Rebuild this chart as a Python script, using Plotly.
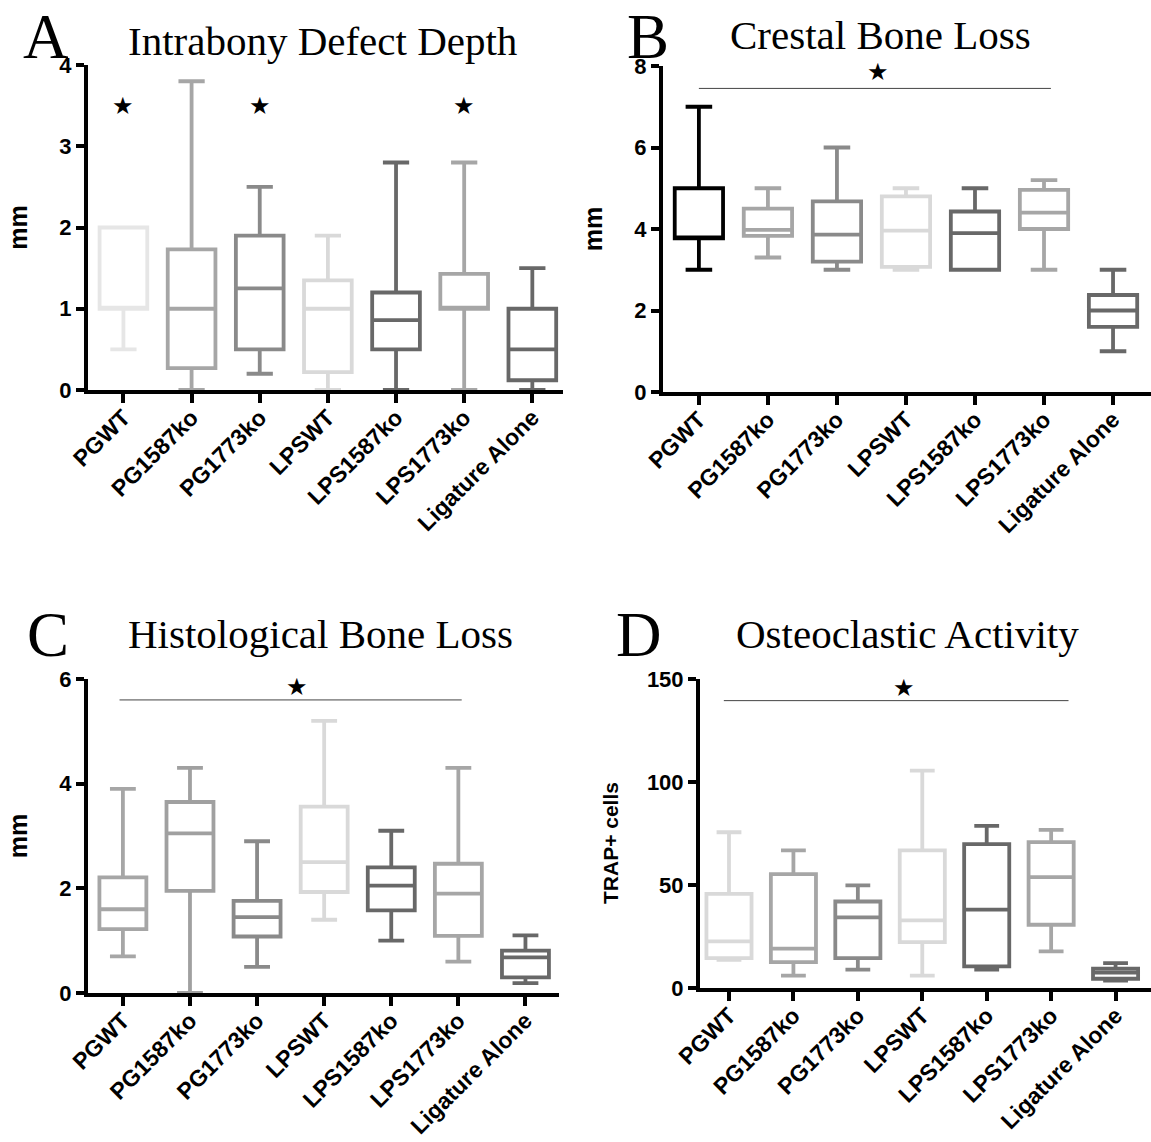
import plotly.graph_objects as go

categories = ["PGWT", "PG1587ko", "PG1773ko", "LPSWT", "LPS1587ko", "LPS1773ko", "Ligature Alone"]

# Panel A: Intrabony Defect Depth (mm)
a_min = [0.5, 0.0, 0.2, 0.0, 0.0, 0.0, 0.0]
a_q1 = [1.0, 0.27, 0.5, 0.22, 0.5, 1.0, 0.12]
a_med = [1.0, 1.0, 1.25, 1.0, 0.86, 1.0, 0.5]
a_q3 = [2.0, 1.73, 1.9, 1.35, 1.2, 1.43, 1.0]
a_max = [2.0, 3.8, 2.5, 1.9, 2.8, 2.8, 1.5]
a_colors = ["#e6e6e6", "#a6a6a6", "#8a8a8a", "#d9d9d9", "#686868", "#a6a6a6", "#686868"]

# Panel B: Crestal Bone Loss (mm)
b_min = [3.0, 3.3, 3.0, 3.0, 3.0, 3.0, 1.0]
b_q1 = [3.77, 3.83, 3.2, 3.07, 3.0, 4.0, 1.6]
b_med = [3.77, 3.98, 3.86, 3.96, 3.9, 4.4, 2.0]
b_q3 = [5.0, 4.5, 4.68, 4.8, 4.43, 4.96, 2.38]
b_max = [7.0, 5.0, 6.0, 5.0, 5.0, 5.2, 3.0]
b_colors = ["#000000", "#a6a6a6", "#8a8a8a", "#d9d9d9", "#686868", "#a6a6a6", "#686868"]

# Panel C: Histological Bone Loss (mm)
c_min = [0.7, 0.0, 0.5, 1.4, 1.0, 0.6, 0.19]
c_q1 = [1.22, 1.95, 1.08, 1.93, 1.58, 1.09, 0.3]
c_med = [1.6, 3.05, 1.45, 2.5, 2.05, 1.9, 0.68]
c_q3 = [2.21, 3.65, 1.76, 3.56, 2.4, 2.47, 0.81]
c_max = [3.9, 4.3, 2.9, 5.2, 3.1, 4.3, 1.1]
c_colors = ["#a6a6a6", "#a0a0a0", "#8a8a8a", "#d9d9d9", "#686868", "#a6a6a6", "#686868"]

# Panel D: Osteoclastic Activity (TRAP+ cells)
d_min = [13.7, 6.0, 8.9, 6.0, 8.9, 17.8, 3.6]
d_q1 = [14.5, 12.6, 14.5, 22.3, 10.5, 30.7, 4.5]
d_med = [22.6, 19.1, 34.3, 32.8, 38.0, 53.8, 7.5]
d_q3 = [45.7, 55.3, 42.0, 66.8, 69.8, 70.8, 9.4]
d_max = [75.6, 66.8, 49.8, 105.5, 78.7, 76.8, 12.1]
d_colors = ["#d9d9d9", "#a6a6a6", "#8a8a8a", "#d9d9d9", "#686868", "#a6a6a6", "#686868"]

W, H = 1151, 1142

def px_x(p):
    return p / W

def px_y(p):
    return 1 - p / H

panels = [
    dict(suffix="", data=(a_min, a_q1, a_med, a_q3, a_max), colors=a_colors,
         xdom=[px_x(88), px_x(563)], ydom=[px_y(390), px_y(65)], yrange=[0, 4], dtick=1,
         ytitle="mm", xrange=[-0.52, 6.45], tsize=25),
    dict(suffix="2", data=(b_min, b_q1, b_med, b_q3, b_max), colors=b_colors,
         xdom=[px_x(663), 1.0], ydom=[px_y(392), px_y(66)], yrange=[0, 8], dtick=2,
         ytitle="mm", xrange=[-0.52, 6.55], tsize=25),
    dict(suffix="3", data=(c_min, c_q1, c_med, c_q3, c_max), colors=c_colors,
         xdom=[px_x(88), px_x(559)], ydom=[px_y(993), px_y(679)], yrange=[0, 6], dtick=2,
         ytitle="mm", xrange=[-0.52, 6.5], tsize=25),
    dict(suffix="4", data=(d_min, d_q1, d_med, d_q3, d_max), colors=d_colors,
         xdom=[px_x(700), 1.0], ydom=[px_y(988), px_y(679)], yrange=[0, 150], dtick=50,
         ytitle="", xrange=[-0.45, 6.55], tsize=21),
]

fig = go.Figure()
sans = "Liberation Sans, Arial, sans-serif"
xfont = dict(family=sans, size=23, color="black", weight="bold")
yfont = dict(family=sans, size=22, color="black", weight="bold")

for p in panels:
    s = p["suffix"]
    mn, q1, md, q3, mx = p["data"]
    for i, cat in enumerate(categories):
        fig.add_trace(go.Box(
            x=[i], q1=[q1[i]], median=[md[i]], q3=[q3[i]],
            lowerfence=[mn[i]], upperfence=[mx[i]],
            width=0.7, whiskerwidth=0.55,
            line=dict(color=p["colors"][i], width=3.8),
            fillcolor="rgba(255,255,255,0)",
            boxpoints=False, showlegend=False, name=cat,
            xaxis="x" + s, yaxis="y" + s,
        ))
    fig.update_layout(**{
        "xaxis" + s: dict(domain=p["xdom"], anchor="y" + s, range=p["xrange"], automargin=False,
                          tickvals=list(range(7)), ticktext=categories, tickangle=-45,
                          ticklabelstandoff=-8,
                          showline=True, linewidth=4, linecolor="black",
                          ticks="outside", ticklen=9, tickwidth=3.5, tickcolor="black",
                          showgrid=False, zeroline=False, tickfont=xfont),
        "yaxis" + s: dict(domain=p["ydom"], anchor="x" + s, range=p["yrange"], dtick=p["dtick"],
                          automargin=False,
                          showline=True, linewidth=4, linecolor="black",
                          ticks="outside", ticklen=8, tickwidth=3.5, tickcolor="black",
                          showgrid=False, zeroline=False, tickfont=yfont,
                          title=dict(text=p["ytitle"], font=dict(family=sans, size=p["tsize"],
                                                                  color="black", weight="bold"),
                                     standoff=26)),
    })

# y-axis title of panel D, placed as in the reference
fig.add_annotation(x=px_x(611), y=px_y(843), xref="paper", yref="paper", text="TRAP+ cells",
                   textangle=-90, showarrow=False, xanchor="center", yanchor="middle",
                   font=dict(family=sans, size=21, color="black", weight="bold"))

# significance markers
stars_a_x = [0, 2, 5]
for x in stars_a_x:
    fig.add_annotation(x=x, y=3.5, xref="x", yref="y", text="★", showarrow=False,
                       font=dict(size=24, color="black", family="DejaVu Sans"))

sig_lines = [
    ("2", 0.0, 5.1, 7.45, 2.6, 7.85),
    ("3", -0.05, 5.05, 5.6, 2.6, 5.85),
    ("4", -0.08, 5.27, 139.5, 2.72, 145.5),
]
for s, x0, x1, yl, xs, ys in sig_lines:
    fig.add_shape(type="line", x0=x0, x1=x1, y0=yl, y1=yl, xref="x" + s, yref="y" + s,
                  line=dict(color="#444444", width=1))
    fig.add_annotation(x=xs, y=ys, xref="x" + s, yref="y" + s, text="★", showarrow=False,
                       font=dict(size=24, color="black", family="DejaVu Sans"))

serif = "Liberation Serif, Times New Roman, serif"
titles = [
    ("A", 46, 0, "Intrabony Defect Depth", 322, 41),
    ("B", 648, 0, "Crestal Bone Loss", 880, 35),
    ("C", 48, 598, "Histological Bone Loss", 320, 634),
    ("D", 639, 598, "Osteoclastic Activity", 907, 634),
]
for letter, lx, ly, title, tx, ty in titles:
    fig.add_annotation(x=px_x(lx), y=px_y(ly), xref="paper", yref="paper", text=letter,
                       showarrow=False, xanchor="center", yanchor="top",
                       font=dict(family=serif, size=63, color="black"))
    fig.add_annotation(x=px_x(tx), y=px_y(ty), xref="paper", yref="paper", text=title,
                       showarrow=False, xanchor="center", yanchor="middle",
                       font=dict(family=serif, size=41, color="black"))

fig.update_layout(width=W, height=H, margin=dict(l=0, r=0, t=0, b=0),
                  paper_bgcolor="white", plot_bgcolor="white", showlegend=False)

fig.write_html("out.html", config={"displayModeBar": False},
               post_script="document.body.style.margin='0';document.body.style.overflow='hidden';")
